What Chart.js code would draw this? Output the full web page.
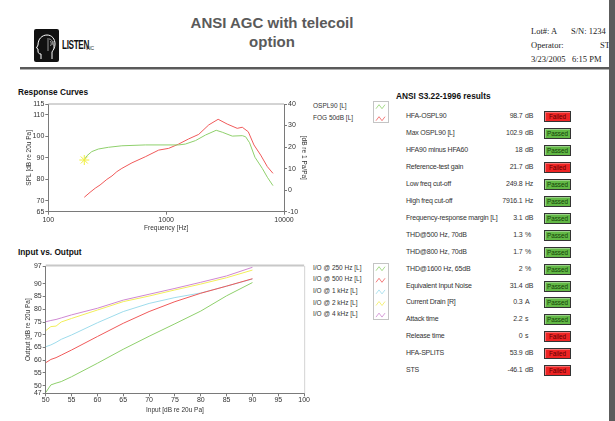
<!DOCTYPE html>
<html><head><meta charset="utf-8">
<script src="https://cdn.jsdelivr.net/npm/chart.js@4.4.1/dist/chart.umd.min.js"></script>
<style>
html,body{margin:0;padding:0;background:#fff;width:615px;height:421px;overflow:hidden;font-family:"Liberation Sans",Arial,sans-serif;}
.abs{position:absolute;}
#title{left:150px;width:244px;top:13px;text-align:center;font-weight:bold;font-size:15px;line-height:19px;color:#5a5a5a;}
.info{font-family:"Liberation Serif","Times New Roman",serif;font-size:8.5px;color:#222;white-space:nowrap;}
.sect{font-weight:bold;font-size:8.3px;color:#111;white-space:nowrap;}
.leg{font-size:6.5px;color:#333;white-space:nowrap;}
.row{font-size:7px;color:#333;white-space:nowrap;letter-spacing:-0.2px;}
.badge{width:25px;height:9px;border:1px solid #333;font-size:6.3px;line-height:9px;text-align:center;color:#222;box-shadow:inset 1px 1px 0 rgba(255,255,255,0.35);}
</style></head><body>
<div id="title" class="abs">ANSI AGC with telecoil<br>option</div>

<div class="abs" style="left:34px;top:29px;width:25px;height:33px;">
<svg width="25" height="33" viewBox="0 0 25 33">
<rect x="0" y="0" width="25" height="33" rx="2" fill="#111"/>
<path d="M7 30 L7 25 C5 25 4 24 4 22 L4 20 L2.5 19 L4 16 C4 10 8 6 13 6 C18 6 21 10 21 15 C21 19 19 21 18 23 L18 30" fill="none" stroke="#fff" stroke-width="1"/>
<path d="M15 10 C18 10 19 13 18 16 M16 12 C17.5 13 17.5 15 16.5 17 M19 12 L20 20 M14 9 L14 22" fill="none" stroke="#ccc" stroke-width="0.7"/>
</svg></div>
<div class="abs" style="left:62px;top:38px;font-weight:bold;font-size:12px;letter-spacing:-0.5px;color:#111;transform:scaleX(0.68);transform-origin:left;">LISTEN</div>
<div class="abs" style="left:86px;top:45px;font-size:5px;color:#333;letter-spacing:-0.3px;">INC</div>

<div class="abs info" style="left:531px;top:26px;">Lot#: A</div>
<div class="abs info" style="left:571px;top:26px;">S/N: 1234</div>
<div class="abs info" style="left:531px;top:40px;">Operator:</div>
<div class="abs info" style="left:600px;top:40px;">ST</div>
<div class="abs info" style="left:531px;top:54px;">3/23/2005</div>
<div class="abs info" style="left:572px;top:54px;">6:15 PM</div>
<div class="abs" style="left:609px;top:0;width:6px;height:421px;background:#5c5c5c;"></div>

<div class="abs" style="left:20px;top:67px;width:589px;height:2px;background:#5a5a5a;"></div>
<div class="abs" style="left:20px;top:69px;width:589px;height:1px;background:#b0b0b0;"></div>

<div class="abs sect" style="left:18px;top:87px;">Response Curves</div>
<div class="abs sect" style="left:18px;top:247px;">Input vs. Output</div>
<div class="abs sect" style="left:396px;top:91px;">ANSI S3.22-1996 results</div>

<canvas id="resp" class="abs" width="310" height="150" style="left:0;top:84px;width:310px;height:150px;"></canvas>
<canvas id="io" class="abs" width="310" height="163" style="left:0;top:258px;width:310px;height:163px;"></canvas>

<div id="respLegend"></div>
<div id="ioLegend"></div>
<div id="results"></div>

<script>
// ---------- Response curves data ----------
const osplFreq   = [202, 212, 234, 266, 324, 421, 665, 1277, 1455, 1773, 2158, 2659, 2992, 3640, 4426, 4723, 5105, 5666, 6543, 7223, 8062];
const osplValues = [89.0, 90.9, 92.9, 94.1, 94.9, 95.6, 96.0, 96.0, 96.4, 98.0, 100.6, 102.8, 101.9, 100.1, 100.3, 99.8, 97.0, 90.3, 85.1, 81.0, 77.1];
const fogFreq    = [202, 226, 250, 275, 314, 347, 382, 421, 513, 665, 864, 1050, 1277, 1553, 1890, 2299, 2762, 3295, 4009, 4426, 4977, 5559, 6339, 7223, 8062];
const fogValues  = [-3.3, -1.0, 0.9, 2.4, 5.0, 6.6, 8.6, 10.1, 12.7, 15.5, 18.6, 19.4, 21.4, 23.8, 25.9, 30.3, 32.9, 30.7, 28.7, 29.2, 27.1, 21.0, 16.3, 10.9, 7.8];
const markerFreq  = [202];
const markerValue = [89.0];
const respSeriesNames = ['OSPL90 [L]', 'FOG 50dB [L]'];
const respXTicks  = [100, 1000, 10000];
const respYTicks  = [65, 70, 80, 90, 100, 110, 115];
const respY2Ticks = [-10, 0, 10, 20, 30, 40];

// ---------- Input vs Output data ----------
const ioInput = [50, 51, 52, 53, 55, 60, 65, 70, 75, 80, 85, 90];
const io250 = [47.3, 50.3, 51.0, 51.6, 53.5, 58.8, 64.3, 69.4, 74.3, 79.3, 85.3, 90.5];
const io500 = [59.0, 60.3, 61.0, 62.0, 64.0, 69.3, 74.5, 79.1, 83.0, 86.3, 89.1, 92.0];
const io1k  = [65.3, 66.0, 67.0, 68.2, 69.9, 74.7, 79.1, 82.3, 84.6, 86.4, 89.1, 91.9];
const io2k  = [71.6, 73.2, 73.4, 75.0, 76.4, 79.7, 83.0, 85.2, 87.6, 89.9, 92.4, 95.4];
const io4k  = [75.1, 75.6, 76.0, 76.6, 77.8, 80.4, 83.6, 85.9, 88.2, 90.6, 93.1, 96.5];
const ioSeriesNames = ['I/O @ 250 Hz [L]', 'I/O @ 500 Hz [L]', 'I/O @ 1 kHz [L]', 'I/O @ 2 kHz [L]', 'I/O @ 4 kHz [L]'];
const ioXTicks = [50, 55, 60, 65, 70, 75, 80, 85, 90, 95, 100];
const ioYTicks = [47, 50, 55, 60, 65, 70, 75, 80, 85, 90, 97];

// ---------- Results table ----------
const resultLabels = ['HFA-OSPL90', 'Max OSPL90 [L]', 'HFA90 minus HFA60', 'Reference-test gain', 'Low freq cut-off', 'High freq cut-off', 'Frequency-response margin [L]', 'THD@500 Hz, 70dB', 'THD@800 Hz, 70dB', 'THD@1600 Hz, 65dB', 'Equivalent Input Noise', 'Current Drain [R]', 'Attack time', 'Release time', 'HFA-SPLITS', 'STS'];
const resultValues = ['98.7', '102.9', '18', '21.7', '249.8', '7916.1', '3.1', '1.3', '1.7', '2', '31.4', '0.3', '2.2', '0', '53.9', '-46.1'];
const resultUnits  = ['dB', 'dB', 'dB', 'dB', 'Hz', 'Hz', 'dB', '%', '%', '%', 'dB', 'A', 's', 's', 'dB', 'dB'];
const resultStatus = ['Failed', 'Passed', 'Passed', 'Failed', 'Passed', 'Passed', 'Passed', 'Passed', 'Passed', 'Passed', 'Passed', 'Passed', 'Passed', 'Failed', 'Failed', 'Failed'];

const GREEN = '#8fd06c', RED = '#f05a5a', CYAN = '#9edcec', YELLOW = '#f2ee5a', PURPLE = '#cf88d2';
const AXIS = '#7a7a7a', TXT = '#333';
const tickFont = {family: '"Liberation Sans", Arial, sans-serif', size: 7};
const titleFont = {family: '"Liberation Sans", Arial, sans-serif', size: 6.5};

function pts(xs, ys) { return xs.map((x, i) => ({x: x, y: ys[i]})); }
function fixTicks(arr) { return function (s) { s.ticks = arr.map(v => ({value: v})); }; }

const framePlugin = {
  id: 'frame',
  afterDatasetsDraw(chart, args, opts) {
    const a = chart.chartArea, c = chart.ctx;
    c.save();
    c.strokeStyle = opts.topColor; c.lineWidth = opts.topWidth;
    c.beginPath(); c.moveTo(a.left, a.top - opts.topWidth / 2 + 0.5); c.lineTo(a.right, a.top - opts.topWidth / 2 + 0.5); c.stroke();
    if (opts.rightColor) {
      c.strokeStyle = opts.rightColor; c.lineWidth = 1;
      c.beginPath(); c.moveTo(a.right + 0.5, a.top); c.lineTo(a.right + 0.5, a.bottom); c.stroke();
    }
    c.restore();
  }
};

function axisCommon(ticksArr, fitProp, fitVal) {
  return {
    grid: {drawOnChartArea: false, drawTicks: true, tickLength: 3, tickColor: AXIS},
    border: {display: true, color: AXIS, width: 1},
    afterBuildTicks: fixTicks(ticksArr),
    afterFit: function (s) { s[fitProp] = fitVal; },
  };
}

// Response chart
new Chart(document.getElementById('resp'), {
  type: 'line',
  data: {
    datasets: [
      {label: 'marker', data: pts(markerFreq, markerValue), yAxisID: 'y', showLine: false, pointStyle: 'star', pointRadius: 5, borderColor: '#f0ee40', backgroundColor: '#f0ee40', borderWidth: 1},
      {label: respSeriesNames[0], data: pts(osplFreq, osplValues), yAxisID: 'y', borderColor: GREEN, borderWidth: 1, pointRadius: 0, tension: 0},
      {label: respSeriesNames[1], data: pts(fogFreq, fogValues), yAxisID: 'y2', borderColor: RED, borderWidth: 1, pointRadius: 0, tension: 0}
    ]
  },
  options: {
    responsive: false, animation: false, events: [],
    layout: {padding: {top: 20, left: 0, right: 0, bottom: 0}},
    plugins: {legend: {display: false}, tooltip: {enabled: false}, frame: {topColor: '#a8a8a8', topWidth: 1}},
    scales: {
      x: Object.assign(axisCommon(respXTicks, 'height', 22.3), {
        type: 'logarithmic', min: 100, max: 10000, position: 'bottom',
        ticks: {autoSkip: false, maxRotation: 0, color: TXT, font: tickFont, padding: 1, callback: v => String(v)},
        title: {display: true, text: 'Frequency [Hz]', color: TXT, font: titleFont, padding: {top: 0, bottom: 1.5}}
      }),
      y: Object.assign(axisCommon(respYTicks, 'width', 48.3), {
        type: 'linear', min: 65, max: 115, position: 'left',
        ticks: {autoSkip: false, color: TXT, font: tickFont, padding: 1},
        title: {display: true, text: 'SPL [dB re 20u Pa]', color: TXT, font: titleFont, padding: {top: 25, bottom: 0}}
      }),
      y2: Object.assign(axisCommon(respY2Ticks, 'width', 26), {
        type: 'linear', min: -10, max: 40, position: 'right',
        ticks: {autoSkip: false, color: TXT, font: tickFont, padding: 1},
        title: {display: true, text: '[dB re 1 Pa/Pa]', color: TXT, font: titleFont, padding: {top: 2.3, bottom: 0}}
      })
    }
  },
  plugins: [framePlugin]
});

// IO chart
const ioSeries = [io250, io500, io1k, io2k, io4k];
const ioColors = [GREEN, RED, CYAN, YELLOW, PURPLE];
new Chart(document.getElementById('io'), {
  type: 'line',
  data: {
    datasets: ioSeries.map((s, i) => ({label: ioSeriesNames[i], data: pts(ioInput, s), borderColor: ioColors[i], borderWidth: 1, pointRadius: 0, tension: 0}))
  },
  options: {
    responsive: false, animation: false, events: [],
    layout: {padding: {top: 8, left: 0, right: 4, bottom: 0}},
    plugins: {legend: {display: false}, tooltip: {enabled: false}, frame: {topColor: '#c8c8c8', topWidth: 2, rightColor: '#d4d4d4'}},
    scales: {
      x: Object.assign(axisCommon(ioXTicks, 'height', 27.7), {
        type: 'linear', min: 50, max: 100, position: 'bottom',
        ticks: {autoSkip: false, maxRotation: 0, color: TXT, font: tickFont, padding: 0},
        title: {display: true, text: 'Input [dB re 20u Pa]', color: TXT, font: titleFont, padding: {top: 0, bottom: 6.8}}
      }),
      y: Object.assign(axisCommon(ioYTicks, 'width', 45.7), {
        type: 'linear', min: 47, max: 97, position: 'left',
        ticks: {autoSkip: false, color: TXT, font: tickFont, padding: 1},
        title: {display: true, text: 'Output [dB re 20u Pa]', color: TXT, font: titleFont, padding: {top: 24, bottom: 0}}
      })
    }
  },
  plugins: [framePlugin]
});

// Legends (HTML)
function zig(color, y) {
  return '<polyline points="3,' + (y + 3) + ' 6,' + (y - 1) + ' 9,' + (y + 3) + ' 12,' + (y - 1) + '" fill="none" stroke="' + color + '" stroke-width="0.8"/>';
}
function buildLegend(el, names, colors, left, top, step, boxTop, boxH) {
  let html = '';
  names.forEach((n, i) => {
    html += '<div class="abs leg" style="left:' + left + 'px;top:' + (top + i * step - 4) + 'px;">' + n + '</div>';
  });
  let svg = '<svg class="abs" style="left:373px;top:' + boxTop + 'px;" width="16" height="' + boxH + '"><rect x="0.5" y="0.5" width="15" height="' + (boxH - 1) + '" fill="#fff" stroke="#c4c4c4"/>';
  names.forEach((n, i) => { svg += zig(colors[i], (top + i * step) - boxTop); });
  svg += '</svg>';
  el.innerHTML = html + svg;
}
buildLegend(document.getElementById('respLegend'), respSeriesNames, [GREEN, RED], 313, 105.7, 12, 101, 22);
buildLegend(document.getElementById('ioLegend'), ioSeriesNames, ioColors, 313, 267.7, 11.6, 263, 57);

// Results table
(function () {
  let html = '';
  resultLabels.forEach((lab, i) => {
    const cy = 116.7 + i * 16.93;
    const t = cy - 4.5;
    html += '<div class="abs row" style="left:406px;top:' + t + 'px;">' + lab + '</div>';
    html += '<div class="abs row" style="left:470px;width:52.5px;text-align:right;top:' + t + 'px;">' + resultValues[i] + '</div>';
    html += '<div class="abs row" style="left:525px;top:' + t + 'px;">' + resultUnits[i] + '</div>';
    const failed = resultStatus[i] === 'Failed';
    html += '<div class="abs badge" style="left:544px;top:' + (cy - 5.5) + 'px;background:' + (failed ? '#ee2424' : '#62b845') + ';color:' + (failed ? '#5a0000' : '#123d08') + ';">' + resultStatus[i] + '</div>';
  });
  document.getElementById('results').innerHTML = html;
})();
</script>
</body></html>
